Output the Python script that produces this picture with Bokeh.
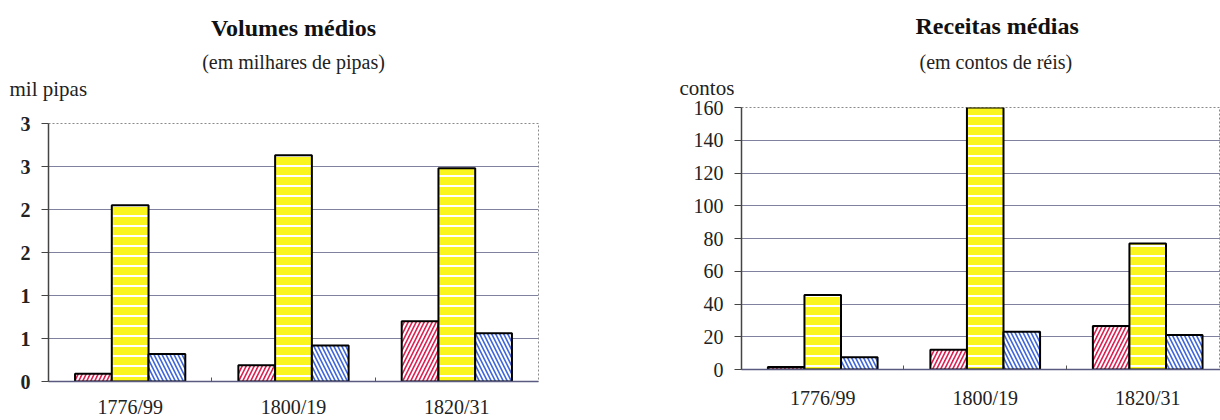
from bokeh.plotting import figure
from bokeh.layouts import row, column
from bokeh.models import Range1d, FixedTicker, ColumnDataSource, Title
from bokeh.embed import file_html
from bokeh.resources import INLINE

# ---------------- data ----------------
periods = ["1776/99", "1800/19", "1820/31"]

vol_pink = [0.09, 0.19, 0.70]
vol_yellow = [2.05, 2.63, 2.48]
vol_blue = [0.32, 0.42, 0.56]

rec_pink = [1.5, 12, 26.5]
rec_yellow = [45.5, 160, 77]
rec_blue = [7.5, 23, 21]

vol_ticks = [0, 0.5, 1, 1.5, 2, 2.5, 3]
vol_tick_labels = ["0", "1", "1", "2", "2", "3", "3"]
rec_ticks = [0, 20, 40, 60, 80, 100, 120, 140, 160]
rec_tick_labels = ["0", "20", "40", "60", "80", "100", "120", "140", "160"]

vol_title = "Volumes médios"
vol_subtitle = "(em milhares de pipas)"
vol_unit = "mil pipas"
rec_title = "Receitas médias"
rec_subtitle = "(em contos de réis)"
rec_unit = "contos"

FONT = "Liberation Serif"
PINK = "#dc1e50"
YELLOW = "#fbf51e"
BLUE = "#3c64dc"
GRID = "#80809f"
BAR_W = 0.225


def make_chart(pink, yellow, blue, ticks, tick_labels, ymax, x_end,
               width, height, borders, tick_bold, xstandoff):
    bl, br, bt, bb = borders
    p = figure(width=width, height=height, output_backend="svg",
               toolbar_location=None,
               x_range=Range1d(0, x_end), y_range=Range1d(0, ymax),
               min_border_left=bl, min_border_right=br,
               min_border_top=bt, min_border_bottom=bb)
    p.background_fill_color = "white"
    p.border_fill_color = "white"
    p.outline_line_color = "#8a8a8a"
    p.outline_line_dash = "2 2"
    p.outline_line_width = 1

    centers = [i + 0.5 for i in range(len(periods))]
    src = ColumnDataSource(dict(
        xp=[c - BAR_W for c in centers],
        xy=centers,
        xb=[c + BAR_W for c in centers],
        pink=pink, yellow=yellow, blue=blue))

    p.vbar(x="xp", top="pink", bottom=0, width=BAR_W, source=src,
           fill_color=PINK, line_color="black", line_width=2,
           hatch_pattern="/", hatch_color="white", hatch_weight=2,
           hatch_scale=8)
    p.vbar(x="xy", top="yellow", bottom=0, width=BAR_W, source=src,
           fill_color=YELLOW, line_color="black", line_width=2,
           hatch_pattern="-", hatch_color="white", hatch_weight=2,
           hatch_scale=10)
    p.vbar(x="xb", top="blue", bottom=0, width=BAR_W, source=src,
           fill_color=BLUE, line_color="black", line_width=2,
           hatch_pattern="\\", hatch_color="white", hatch_weight=2,
           hatch_scale=8)

    p.xgrid.grid_line_color = None
    p.ygrid.ticker = FixedTicker(ticks=ticks)
    p.ygrid.grid_line_color = GRID
    p.ygrid.grid_line_width = 1

    ya = p.yaxis[0]
    ya.ticker = FixedTicker(ticks=ticks)
    ya.major_label_overrides = {t: l for t, l in zip(ticks, tick_labels)}
    ya.axis_line_color = "#444444"
    ya.axis_line_width = 1.5
    ya.major_tick_line_color = "#444444"
    ya.major_tick_out = 7
    ya.major_tick_in = 0
    ya.minor_tick_line_color = None
    ya.major_label_text_font = FONT
    ya.major_label_text_font_size = "20px"
    ya.major_label_text_font_style = "bold" if tick_bold else "normal"
    ya.major_label_text_color = "#222222"
    ya.major_label_standoff = 11

    xa = p.xaxis[0]
    xa.ticker = FixedTicker(ticks=centers,
                            minor_ticks=[float(i) for i in range(1, len(periods))])
    xa.major_label_overrides = {c: l for c, l in zip(centers, periods)}
    xa.axis_line_color = "#5a5a80"
    xa.axis_line_width = 1.5
    xa.major_tick_line_color = None
    xa.major_tick_out = 0
    xa.major_tick_in = 0
    xa.minor_tick_line_color = "#555555"
    xa.minor_tick_in = 4
    xa.minor_tick_out = 0
    xa.major_label_text_font = FONT
    xa.major_label_text_font_size = "20px"
    xa.major_label_text_color = "#222222"
    xa.major_label_standoff = xstandoff
    return p


def add_titles(p, title, subtitle, unit, align, t_off, s_off, u_off,
               gap, s_stand, t_stand):
    # stacked closest-to-frame first: spacer, unit line, subtitle, title
    p.add_layout(Title(text=" ", text_font=FONT, text_font_size="1px",
                       standoff=gap), "above")
    p.add_layout(Title(text=unit, align="left", offset=u_off,
                       text_font=FONT, text_font_size="21px",
                       text_font_style="normal", text_color="#222222",
                       standoff=0), "above")
    p.add_layout(Title(text=subtitle, align=align, offset=s_off,
                       text_font=FONT, text_font_size="20px",
                       text_font_style="normal", text_color="#222222",
                       standoff=s_stand), "above")
    p.add_layout(Title(text=title, align=align, offset=t_off,
                       text_font=FONT, text_font_size="24px",
                       text_font_style="bold", text_color="#111111",
                       standoff=t_stand), "above")


# left: frame 48..538 px, 3.0 at 123 px, 0 at 382 px
left = make_chart(vol_pink, vol_yellow, vol_blue, vol_ticks, vol_tick_labels,
                  3, 3, 608, 420, (48, 70, 123, 38), True, 14)
add_titles(left, vol_title, vol_subtitle, vol_unit, "center", 0, 0, -39,
           20, 3, 14)

# right: frame 741..1220 px (162.5 px per period), 160 at 107 px, 0 at 369 px
right = make_chart(rec_pink, rec_yellow, rec_blue, rec_ticks, rec_tick_labels,
                   160, 2.948, 612, 420, (133, 0, 107, 51), False, 17)
add_titles(right, rec_title, rec_subtitle, rec_unit, "left", 174, 178, -62,
           5, 1, 20)

layout = row(column(left), column(right))
open("out.html", "w").write(file_html(layout, INLINE))
